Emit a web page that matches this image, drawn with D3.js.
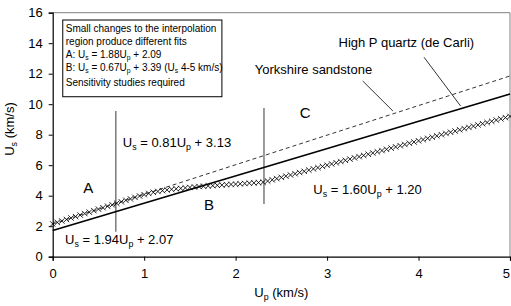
<!DOCTYPE html>
<html><head><meta charset="utf-8">
<script src="https://cdn.jsdelivr.net/npm/d3@7"></script>
<style>body{margin:0;background:#fff}svg{display:block}text{font-family:"Liberation Sans",Arial,sans-serif}</style>
</head><body>
<svg id="c" width="511" height="306"></svg>
<script>
// Measured Hugoniot points (Up, Us in km/s)
const upValues = [0.00,0.05,0.10,0.15,0.20,0.25,0.30,0.35,0.40,0.45,0.50,0.55,0.60,0.65,0.70,
 0.75,0.80,0.85,0.90,0.95,1.00,1.05,1.10,1.15,1.20,1.25,1.30,1.35,1.40,1.45,1.50,1.55,1.60,1.65,1.70,1.75,1.80,1.85,1.90,1.95,2.00,2.05,2.10,2.15,2.20,2.25,2.30,
 2.35,2.40,2.45,2.50,2.55,2.60,2.65,2.70,2.75,2.80,2.85,2.90,2.95,3.00,3.05,3.10,3.15,3.20,3.25,3.30,3.35,3.40,3.45,3.50,3.55,3.60,3.65,3.70,3.75,3.80,3.85,3.90,3.95,
 4.00,4.05,4.10,4.15,4.20,4.25,4.30,4.35,4.40,4.45,4.50,4.55,4.60,4.65,4.70,4.75,4.80,4.85,4.90,4.95,5.00];
const usValues = [2.15,2.25,2.34,2.44,2.54,2.63,2.73,2.83,2.92,3.02,3.12,3.21,3.31,3.40,3.50,
 3.60,3.70,3.79,3.89,3.98,4.07,4.15,4.22,4.28,4.33,4.38,4.42,4.45,4.48,4.51,4.54,4.57,4.60,4.62,4.64,4.66,4.68,4.70,4.72,4.74,4.76,4.78,4.80,4.82,4.84,4.86,4.88,
 4.96,5.04,5.12,5.20,5.28,5.36,5.44,5.52,5.60,5.68,5.76,5.84,5.92,6.00,6.08,6.16,6.24,6.32,6.40,6.48,6.56,6.64,6.72,6.80,6.88,6.96,7.04,7.12,7.20,7.28,7.36,7.44,7.52,
 7.60,7.68,7.76,7.84,7.92,8.00,8.08,8.16,8.24,8.32,8.40,8.48,8.56,8.64,8.72,8.80,8.88,8.96,9.04,9.12,9.20];
// Reference lines
const quartzLine = [[0,1.72],[5,10.67]];      // High P quartz (de Carli)
const sandstoneLine = [[0,2.15],[5,11.85]];   // Yorkshire sandstone
const dividers = [[0.69,1.64,9.55],[2.31,3.46,9.75]];
const xTicks = [0,1,2,3,4,5];
const yTicks = [0,2,4,6,8,10,12,14,16];
const boxLines = [
  [["Small changes to the interpolation",""]],
  [["region produce different fits",""]],
  [["A: U",""],["s","sub"],[" = 1.88U",""],["p","sub"],[" + 2.09",""]],
  [["B: U",""],["s","sub"],[" = 0.67U",""],["p","sub"],[" + 3.39 (U",""],["s","sub"],[" 4-5 km/s)",""]],
  [["Sensitivity studies required",""]]
];

const svg = d3.select("#c");
const m = {l:52.7, r:1, t:12.7, b:49.3};
const W = 511, H = 306;
const x = d3.scaleLinear().domain([0,5]).range([m.l, W-m.r]);
const y = d3.scaleLinear().domain([0,16]).range([H-m.b, m.t]);

// frame top/right
svg.append("line").attr("x1",x(0)).attr("x2",x(5)).attr("y1",y(16)).attr("y2",y(16)).attr("stroke","#808080").attr("stroke-width",1);
svg.append("line").attr("x1",x(5)).attr("x2",x(5)).attr("y1",y(16)).attr("y2",y(0)).attr("stroke","#808080").attr("stroke-width",1);

// axes
const xa = svg.append("g").attr("transform",`translate(0,${y(0)})`)
  .call(d3.axisBottom(x).tickValues(xTicks).tickFormat(d3.format("d")).tickSize(4).tickPadding(8));
const ya = svg.append("g").attr("transform",`translate(${x(0)},0)`)
  .call(d3.axisLeft(y).tickValues(yTicks).tickSize(4).tickPadding(6));
[xa,ya].forEach(a=>{
  a.select(".domain").attr("stroke","#000").attr("stroke-width",1.2);
  a.selectAll(".tick line").attr("stroke","#000");
  a.selectAll("text").attr("font-size",13).attr("fill","#000").attr("font-family","Liberation Sans, Arial, sans-serif");
});
xa.selectAll(".tick text").filter(d=>d===5).attr("text-anchor","end").attr("dx",-0.5);

// dividers
svg.selectAll(".div").data(dividers).enter().append("line")
  .attr("x1",d=>x(d[0])).attr("x2",d=>x(d[0])).attr("y1",d=>y(d[1])).attr("y2",d=>y(d[2]))
  .attr("stroke","#7a7a7a").attr("stroke-width",1.5);

const line = d3.line().x(d=>x(d[0])).y(d=>y(d[1]));
svg.append("path").attr("d",line(sandstoneLine)).attr("fill","none").attr("stroke","#000").attr("stroke-width",0.8).attr("stroke-dasharray","4,3");
svg.append("path").attr("d",line(quartzLine)).attr("fill","none").attr("stroke","#000").attr("stroke-width",1.6);

// markers
const pts = upValues.map((u,i)=>[u,usValues[i]]);
const s = 2.7;
svg.append("g").selectAll("path").data(pts).enter().append("path")
  .attr("d",d=>{const cx=x(d[0]),cy=y(d[1]);return `M${cx-s},${cy-s}L${cx+s},${cy+s}M${cx-s},${cy+s}L${cx+s},${cy-s}`;})
  .attr("stroke","#000").attr("stroke-width",0.85).attr("fill","none");

// leader lines
const leaders = [[[4.06,13.08],[4.46,9.88]],[[3.39,11.52],[3.72,9.55]]];
leaders.forEach(l=>svg.append("path").attr("d",line(l)).attr("stroke","#000").attr("stroke-width",0.8).attr("fill","none"));

// helper for subscripted text
function rich(g, parts, fs){
  parts.forEach(p=>{
    const t = g.append("tspan").text(p[0]);
    if(p[1]==="sub"){ t.attr("font-size",fs*0.68).attr("dy",fs*0.22); }
    else if(g.node().childNodes.length>1){
      const prev = g.node().childNodes[g.node().childNodes.length-2];
      if(prev.getAttribute("dy")) t.attr("dy",-fs*0.22);
    }
  });
}
function label(parts, ux, uy, fs, anchor){
  const t = svg.append("text").attr("x",x(ux)).attr("y",y(uy)).attr("font-size",fs).attr("fill","#000").attr("text-anchor",anchor||"start");
  rich(t, parts, fs);
  return t;
}

label([["U",""],["s","sub"],[" = 0.81U",""],["p","sub"],[" + 3.13",""]], 0.766, 7.21, 13);
label([["U",""],["s","sub"],[" = 1.94U",""],["p","sub"],[" + 2.07",""]], 0.135, 0.81, 13);
label([["U",""],["s","sub"],[" = 1.60U",""],["p","sub"],[" + 1.20",""]], 2.85, 4.09, 13);
label([["A",""]], 0.39, 4.16, 15, "middle");
label([["B",""]], 1.71, 3.06, 15, "middle");
label([["C",""]], 2.76, 9.09, 15, "middle");
label([["High P quartz (de Carli)",""]], 3.125, 13.77, 13);
label([["Yorkshire sandstone",""]], 2.21, 11.98, 13);

// text box
svg.append("rect").attr("x",x(0.11)).attr("y",y(15.52)).attr("width",x(1.85)-x(0.11)).attr("height",y(10.49)-y(15.52))
  .attr("fill","#fff").attr("stroke","#000").attr("stroke-width",1);
const boxY = [14.72,13.90,13.05,12.20,11.22];
boxLines.forEach((parts,i)=>label(parts, 0.143, boxY[i], 10));

// axis titles
const xt = svg.append("text").attr("x",(x(0)+x(5))/2).attr("y",297).attr("text-anchor","middle").attr("font-size",13);
rich(xt,[["U",""],["p","sub"],[" (km/s)",""]],13);
const yt = svg.append("text").attr("transform",`translate(14,${129}) rotate(-90)`).attr("text-anchor","middle").attr("font-size",13);
rich(yt,[["U",""],["s","sub"],[" (km/s)",""]],13);
</script>
</body></html>
